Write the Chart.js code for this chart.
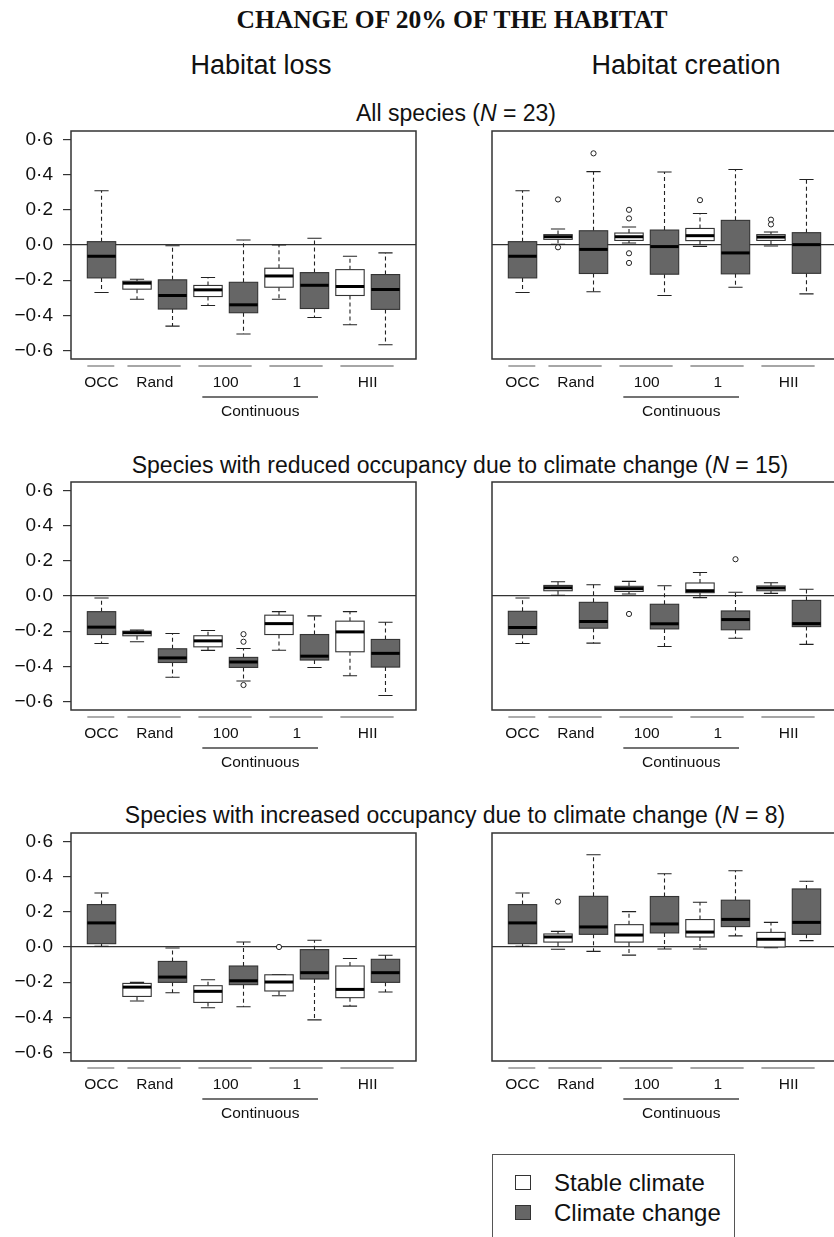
<!DOCTYPE html>
<html>
<head>
<meta charset="utf-8">
<script src="https://cdn.jsdelivr.net/npm/chart.js@4.4.0/dist/chart.umd.min.js"></script>
<style>
  html, body { margin: 0; padding: 0; background: #fff; }
  body { position: relative; width: 834px; height: 1237px; overflow: hidden; font-family: 'Liberation Sans', Arial, sans-serif; color: #111; }
  canvas { position: absolute; }
  .txt { position: absolute; white-space: nowrap; transform: translate(-50%, -50%); }
  .main { font-family: 'Liberation Serif', 'Times New Roman', serif; font-weight: bold; font-size: 25.5px; }
  .side { font-size: 27px; }
  .sub { font-size: 23px; }
  #legend { position: absolute; left: 492px; top: 1154px; width: 243px; height: 120px; border: 1.5px solid #555; box-sizing: border-box; }
  .item { position: absolute; left: 22px; font-size: 24px; white-space: nowrap; }
  .sw { display: inline-block; width: 16px; height: 15px; border: 1.5px solid #333; box-sizing: border-box; vertical-align: middle; margin-right: 23px; position: relative; top: -2px; }
</style>
</head>
<body>
<div class="txt main" style="left:452px; top:20px;">CHANGE OF 20% OF THE HABITAT</div>
<div class="txt side" style="left:261px; top:65px;">Habitat loss</div>
<div class="txt side" style="left:686px; top:65px;">Habitat creation</div>
<div class="txt sub" style="left:456px; top:113px;">All species (<i>N</i> = 23)</div>
<div class="txt sub" style="left:460px; top:465px;">Species with reduced occupancy due to climate change (<i>N</i> = 15)</div>
<div class="txt sub" style="left:455px; top:815px;">Species with increased occupancy due to climate change (<i>N</i> = 8)</div>

<canvas id="c1" width="440" height="330" style="left:0; top:101px;"></canvas>
<canvas id="c2" width="440" height="330" style="left:421px; top:101px;"></canvas>
<canvas id="c3" width="440" height="330" style="left:0; top:452px;"></canvas>
<canvas id="c4" width="440" height="330" style="left:421px; top:452px;"></canvas>
<canvas id="c5" width="440" height="330" style="left:0; top:803px;"></canvas>
<canvas id="c6" width="440" height="330" style="left:421px; top:803px;"></canvas>

<div id="legend">
  <div class="item" style="top:14px;"><span class="sw" style="background:#fff;"></span>Stable climate</div>
  <div class="item" style="top:44px;"><span class="sw" style="background:#666;"></span>Climate change</div>
</div>

<script>
// Boxes, left to right
const boxGroups = ['OCC', 'Rand', 'Rand', '100', '100', '1', '1', 'HII', 'HII'];
const boxClimate = ['change', 'stable', 'change', 'stable', 'change', 'stable', 'change', 'stable', 'change'];

// Group labels under the axis
const groupNames = ['OCC', 'Rand', '100', '1', 'HII'];
const groupFirst = [1, 2, 4, 6, 8];
const groupLast = [1, 3, 5, 7, 9];
const yTicks = [-0.6, -0.4, -0.2, 0, 0.2, 0.4, 0.6];

// [lower whisker, Q1, median, Q3, upper whisker]
const allLoss = [
    [-0.27, -0.187, -0.064, 0.019, 0.308],
    [-0.308, -0.251, -0.217, -0.206, -0.195],
    [-0.461, -0.364, -0.287, -0.198, -0.004],
    [-0.344, -0.293, -0.255, -0.23, -0.185],
    [-0.506, -0.385, -0.34, -0.212, 0.028],
    [-0.308, -0.24, -0.176, -0.132, 0.0],
    [-0.412, -0.361, -0.229, -0.157, 0.038],
    [-0.453, -0.287, -0.236, -0.14, -0.064],
    [-0.567, -0.366, -0.253, -0.168, -0.045]
];
const allLossOut = [[], [], [], [], [], [], [], [], []];

const allCreation = [
    [-0.27, -0.187, -0.064, 0.019, 0.308],
    [0.004, 0.032, 0.047, 0.059, 0.091],
    [-0.266, -0.162, -0.025, 0.081, 0.417],
    [0.011, 0.026, 0.047, 0.068, 0.102],
    [-0.287, -0.166, -0.009, 0.085, 0.415],
    [-0.008, 0.025, 0.053, 0.094, 0.179],
    [-0.24, -0.164, -0.045, 0.14, 0.429],
    [-0.006, 0.026, 0.045, 0.059, 0.074],
    [-0.278, -0.161, 0.002, 0.07, 0.372]
];
const allCreationOut = [[], [0.259, -0.013], [0.521], [0.2, 0.151, -0.047, -0.102], [], [0.255], [], [0.144, 0.117], []];

const reducedLoss = [
    [-0.27, -0.219, -0.177, -0.089, -0.011],
    [-0.26, -0.226, -0.209, -0.2, -0.194],
    [-0.462, -0.378, -0.352, -0.3, -0.213],
    [-0.309, -0.289, -0.255, -0.226, -0.196],
    [-0.483, -0.406, -0.375, -0.349, -0.298],
    [-0.308, -0.219, -0.157, -0.109, -0.089],
    [-0.406, -0.364, -0.342, -0.219, -0.113],
    [-0.453, -0.317, -0.204, -0.143, -0.089],
    [-0.566, -0.404, -0.326, -0.247, -0.149]
];
const reducedLossOut = [[], [], [], [], [-0.217, -0.26, -0.506], [], [], [], []];

const reducedCreation = [
    [-0.27, -0.219, -0.179, -0.087, -0.011],
    [0.004, 0.03, 0.047, 0.06, 0.081],
    [-0.268, -0.183, -0.145, -0.036, 0.064],
    [0.011, 0.026, 0.042, 0.055, 0.083],
    [-0.287, -0.187, -0.158, -0.047, 0.058],
    [-0.009, 0.019, 0.03, 0.074, 0.134],
    [-0.24, -0.192, -0.134, -0.085, 0.021],
    [0.015, 0.03, 0.045, 0.057, 0.075],
    [-0.275, -0.174, -0.157, -0.025, 0.038]
];
const reducedCreationOut = [[], [], [], [-0.102], [], [], [0.209], [], []];

const increasedLoss = [
    [0.004, 0.019, 0.137, 0.241, 0.307],
    [-0.307, -0.281, -0.228, -0.207, -0.201],
    [-0.26, -0.201, -0.171, -0.082, -0.006],
    [-0.345, -0.315, -0.252, -0.22, -0.186],
    [-0.34, -0.214, -0.192, -0.108, 0.028],
    [-0.277, -0.25, -0.199, -0.158, -0.156],
    [-0.414, -0.182, -0.146, -0.015, 0.038],
    [-0.336, -0.288, -0.241, -0.108, -0.065],
    [-0.256, -0.201, -0.146, -0.07, -0.047]
];
const increasedLossOut = [[], [], [], [], [], [0.0], [], [], []];

const increasedCreation = [
    [0.004, 0.019, 0.137, 0.241, 0.307],
    [-0.013, 0.028, 0.057, 0.074, 0.089],
    [-0.025, 0.072, 0.114, 0.288, 0.524],
    [-0.046, 0.028, 0.068, 0.127, 0.201],
    [-0.011, 0.08, 0.131, 0.287, 0.416],
    [-0.011, 0.057, 0.085, 0.156, 0.254],
    [0.063, 0.116, 0.157, 0.266, 0.433],
    [-0.004, 0.0, 0.044, 0.083, 0.14],
    [0.036, 0.072, 0.14, 0.33, 0.374]
];
const increasedCreationOut = [[], [0.258], [], [], [], [], [], [], []];

const FONT = "'Liberation Sans', Arial, sans-serif";
const FILL = { stable: '#ffffff', change: '#666666' };

function fmtTick(v) {
    const s = Math.abs(v).toFixed(1).replace('.', '\u00B7');
    return (v < 0 ? '\u2212' : '') + s;
}

// Draws boxes/whiskers from the stats, plus frame and group labels
const boxplotPlugin = {
    id: 'boxplot',
    beforeDatasetsDraw(chart, args, opts) {
        const ctx = chart.ctx;
        const xs = chart.scales.x, ys = chart.scales.y;
        const half = xs.getPixelForValue(1.4) - xs.getPixelForValue(1);
        const cap = half / 2;
        ctx.save();
        opts.stats.forEach((s, i) => {
            const x = xs.getPixelForValue(i + 1);
            const [lo, q1, med, q3, hi] = s.map(v => ys.getPixelForValue(v));
            ctx.strokeStyle = '#222';
            ctx.lineWidth = 1.1;
            ctx.setLineDash([4, 3]);
            ctx.beginPath();
            ctx.moveTo(x, q3); ctx.lineTo(x, hi);
            ctx.moveTo(x, q1); ctx.lineTo(x, lo);
            ctx.stroke();
            ctx.setLineDash([]);
            ctx.beginPath();
            ctx.moveTo(x - cap, hi); ctx.lineTo(x + cap, hi);
            ctx.moveTo(x - cap, lo); ctx.lineTo(x + cap, lo);
            ctx.stroke();
            ctx.fillStyle = FILL[boxClimate[i]];
            ctx.fillRect(x - half, q3, half * 2, q1 - q3);
            ctx.strokeStyle = '#333';
            ctx.strokeRect(x - half, q3, half * 2, q1 - q3);
            ctx.strokeStyle = '#000';
            ctx.lineWidth = 3;
            ctx.beginPath();
            ctx.moveTo(x - half, med); ctx.lineTo(x + half, med);
            ctx.stroke();
        });
        ctx.restore();
    },
    afterDraw(chart) {
        const ctx = chart.ctx;
        const a = chart.chartArea;
        const xs = chart.scales.x;
        ctx.save();
        ctx.strokeStyle = '#333';
        ctx.lineWidth = 1.5;
        ctx.strokeRect(a.left, a.top, a.right - a.left, a.bottom - a.top);
        // grey lines over each group label
        ctx.strokeStyle = '#888';
        ctx.lineWidth = 1.4;
        groupNames.forEach((g, i) => {
            const from = i === 0 ? 0.6 : groupFirst[i] - 0.27;
            const to = i === 0 ? 1.36 : groupLast[i] + 0.23;
            ctx.beginPath();
            ctx.moveTo(xs.getPixelForValue(from), a.bottom + 7);
            ctx.lineTo(xs.getPixelForValue(to), a.bottom + 7);
            ctx.stroke();
        });
        // "Continuous" bracket under 100 and 1
        const c0 = xs.getPixelForValue(3.84), c1 = xs.getPixelForValue(7.1);
        ctx.strokeStyle = '#444';
        ctx.lineWidth = 1.3;
        ctx.beginPath();
        ctx.moveTo(c0, a.bottom + 38); ctx.lineTo(c1, a.bottom + 38);
        ctx.stroke();
        ctx.fillStyle = '#111';
        ctx.font = '15.5px ' + FONT;
        ctx.textAlign = 'center';
        ctx.textBaseline = 'middle';
        ctx.fillText('Continuous', (c0 + c1) / 2, a.bottom + 53);
        ctx.restore();
    }
};

function makePanel(id, stats, outliers, showY) {
    const points = [];
    outliers.forEach((list, i) => list.forEach(v => points.push({ x: i + 1, y: v })));
    return new Chart(document.getElementById(id), {
        type: 'scatter',
        data: {
            datasets: [{
                data: points,
                pointRadius: 2.6,
                pointBackgroundColor: '#fff',
                pointBorderColor: '#222',
                pointBorderWidth: 1
            }]
        },
        plugins: [boxplotPlugin],
        options: {
            responsive: false,
            animation: false,
            devicePixelRatio: 1,
            layout: { padding: { top: 30, right: 24, bottom: 0, left: 0 } },
            plugins: {
                legend: { display: false },
                tooltip: { enabled: false },
                boxplot: { stats: stats }
            },
            scales: {
                x: {
                    type: 'linear',
                    min: 0.14,
                    max: 9.86,
                    afterBuildTicks: ax => { ax.ticks = groupNames.map((g, i) => ({ value: (groupFirst[i] + groupLast[i]) / 2 })); },
                    afterFit: ax => { ax.height = 72; },
                    border: { display: false },
                    grid: { display: false },
                    ticks: {
                        autoSkip: false,
                        maxRotation: 0,
                        padding: 6,
                        color: '#111',
                        font: { size: 15.5, family: FONT },
                        callback: (v, i) => groupNames[i]
                    }
                },
                y: {
                    min: -0.648,
                    max: 0.648,
                    afterBuildTicks: ax => { ax.ticks = yTicks.map(v => ({ value: v })); },
                    afterFit: ax => { ax.width = 71; },
                    border: { display: false },
                    grid: {
                        drawOnChartArea: true,
                        color: c => (c.tick && c.tick.value === 0) ? '#333' : 'rgba(0,0,0,0)',
                        lineWidth: 1.2,
                        drawTicks: showY,
                        tickLength: 8,
                        tickColor: '#333',
                        tickWidth: 1.2
                    },
                    ticks: {
                        display: showY,
                        padding: 10,
                        color: '#111',
                        font: { size: 19, family: FONT },
                        callback: v => fmtTick(v)
                    }
                }
            }
        }
    });
}

makePanel('c1', allLoss, allLossOut, true);
makePanel('c2', allCreation, allCreationOut, false);
makePanel('c3', reducedLoss, reducedLossOut, true);
makePanel('c4', reducedCreation, reducedCreationOut, false);
makePanel('c5', increasedLoss, increasedLossOut, true);
makePanel('c6', increasedCreation, increasedCreationOut, false);
</script>
</body>
</html>
